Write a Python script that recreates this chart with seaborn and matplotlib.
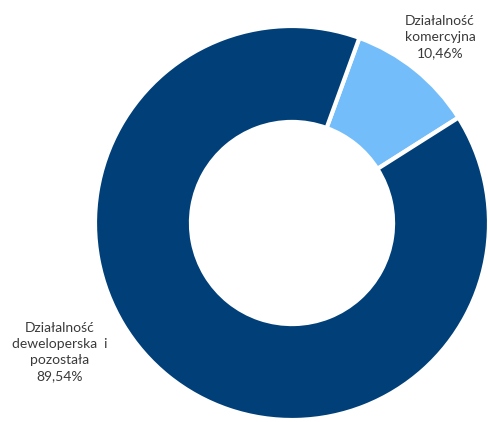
import matplotlib
matplotlib.use("Agg")
import matplotlib.pyplot as plt
import seaborn as sns

categories = ["Działalność\nkomercyjna", "Działalność\ndeweloperska  i\npozostała"]
values = [10.46, 89.54]
value_labels = ["10,46%", "89,54%"]
colors = ["#74BDFB", "#003F78"]

sns.set_theme(style="white")
plt.rcParams['font.family'] = ['Lato', 'DejaVu Sans']

W, H = 489, 422
fig = plt.figure(figsize=(W / 100, H / 100), dpi=100)
ax = fig.add_axes([0, 0, 1, 1])
ax.set_xlim(0, W)
ax.set_ylim(0, H)
ax.set_aspect('equal')
ax.axis('off')

cx, cy = 292, H - 223
R = 197
ax.pie(values, colors=colors, startangle=70, counterclock=False,
       radius=R, center=(cx, cy), frame=True,
       wedgeprops=dict(width=R * 0.487, edgecolor='white', linewidth=3))
ax.set_xlim(0, W)
ax.set_ylim(0, H)
ax.axis('off')

label_pos = [(440, H - 37), (60, H - 352)]
for cat, vl, (x, y) in zip(categories, value_labels, label_pos):
    ax.text(x, y, f"{cat}\n{vl}", ha='center', va='center', fontsize=10,
            color='#3a3a3a', linespacing=1.42)

fig.savefig("out.png", dpi=100)
